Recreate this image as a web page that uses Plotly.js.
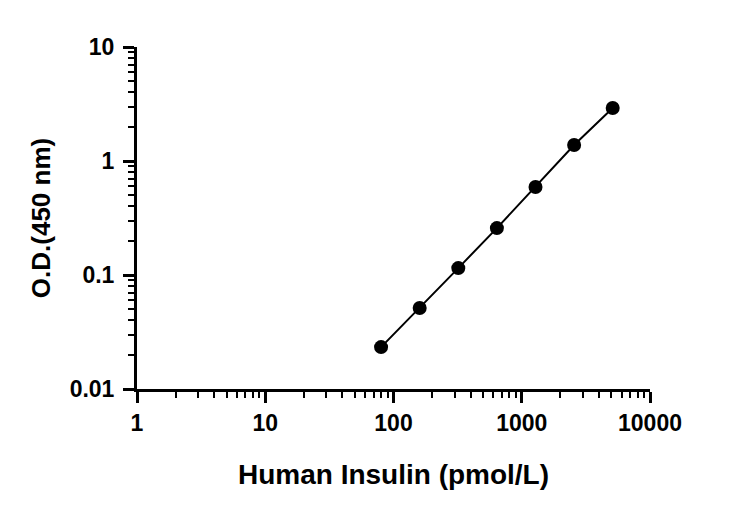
<!DOCTYPE html>
<html><head><meta charset="utf-8">
<script src="https://cdn.plot.ly/plotly-3.0.1.min.js"></script>
<style>html,body{margin:0;padding:0;background:#fff}</style>
</head><body>
<div id="chart" style="width:731px;height:507px"></div>
<script>
const concentration = [80, 160, 320, 640, 1280, 2560, 5120];
const od = [0.0233, 0.0514, 0.115, 0.258, 0.592, 1.38, 2.92];
const xTickVals = [1, 10, 100, 1000, 10000];
const xTickText = ['1', '10', '100', '1000', '10000'];
const yTickVals = [0.01, 0.1, 1, 10];
const yTickText = ['0.01', '0.1', '1', '10'];

const family = 'Liberation Sans, Arial, sans-serif';
const tickFont = {family: family, color: '#000', size: 23, weight: 'bold'};
const xTitleFont = {family: family, color: '#000', size: 28, weight: 'bold'};
const yTitleFont = {family: family, color: '#000', size: 26, weight: 'bold'};

Plotly.newPlot('chart', [{
  x: concentration, y: od, type: 'scatter', mode: 'lines+markers',
  line: {color: '#000', width: 2},
  marker: {color: '#000', size: 14},
  showlegend: false
}], {
  width: 731, height: 507,
  margin: {l: 137, r: 81, t: 47, b: 118},
  paper_bgcolor: '#fff', plot_bgcolor: '#fff',
  font: tickFont,
  xaxis: {
    type: 'log', range: [0, 4], tickvals: xTickVals, ticktext: xTickText,
    showline: true, linewidth: 3, linecolor: '#000', mirror: false,
    ticks: 'outside', ticklen: 11, tickwidth: 3, tickcolor: '#000',
    showgrid: false, zeroline: false,
    minor: {ticks: 'outside', ticklen: 6, tickwidth: 2, tickcolor: '#000', dtick: 'D1', showgrid: false},
    tickfont: tickFont,
    title: {text: 'Human Insulin (pmol/L)', font: xTitleFont, standoff: 30}
  },
  yaxis: {
    type: 'log', range: [-2, 1], tickvals: yTickVals, ticktext: yTickText,
    showline: true, linewidth: 3, linecolor: '#000',
    ticks: 'outside', ticklen: 11, tickwidth: 3, tickcolor: '#000',
    ticklabelstandoff: 4,
    showgrid: false, zeroline: false,
    minor: {ticks: 'outside', ticklen: 6, tickwidth: 2, tickcolor: '#000', dtick: 'D1', showgrid: false},
    tickfont: tickFont,
    title: {text: 'O.D.(450 nm)', font: yTitleFont, standoff: 12}
  }
}, {displayModeBar: false, staticPlot: true});
</script>
</body></html>
